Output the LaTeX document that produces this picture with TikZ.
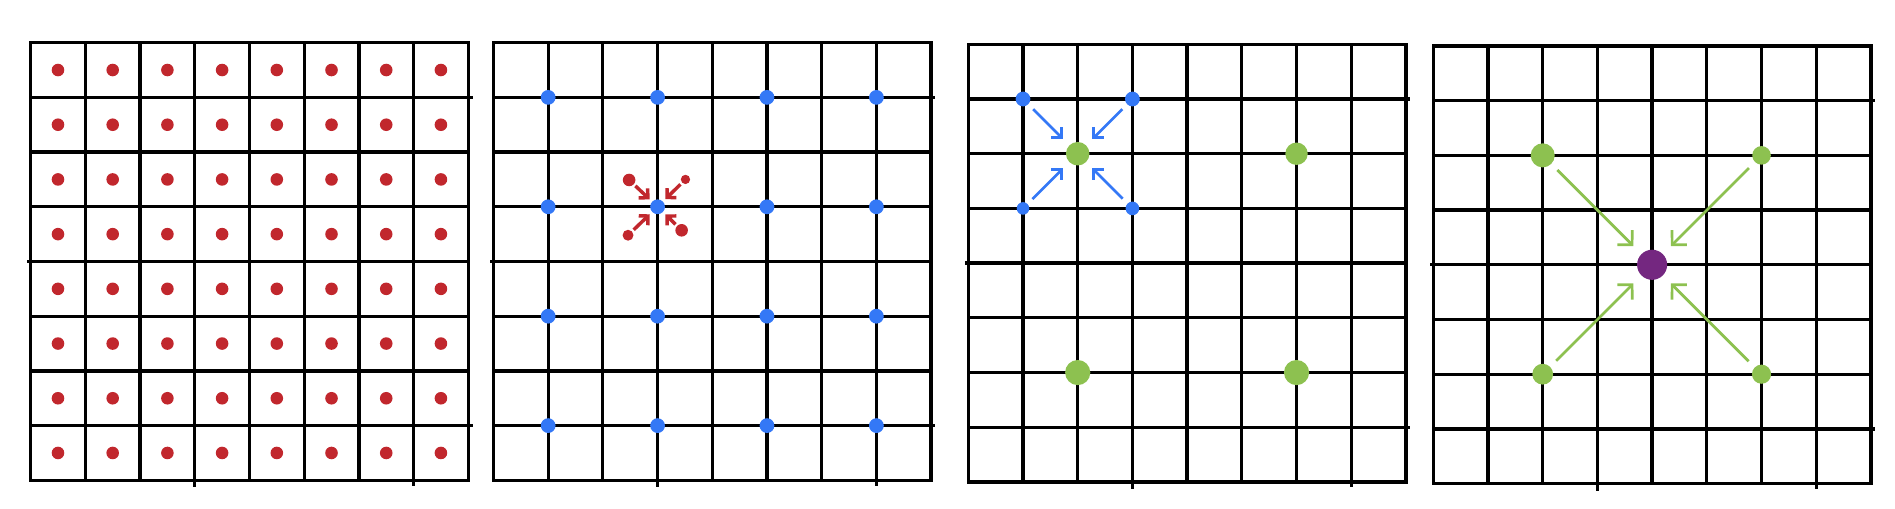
\documentclass[tikz,border=0pt]{standalone}
\usepackage{tikz}
\usetikzlibrary{arrows.meta}

\definecolor{cellred}{RGB}{193,39,45}
\definecolor{nodeblue}{RGB}{52,120,246}
\definecolor{coarsegreen}{RGB}{141,193,80}
\definecolor{toppurple}{RGB}{116,39,128}

% 8x8 lattice with the little overhangs of the hand drawing
\newcommand{\drawlattice}{%
    \draw[gridline] (0,0) grid (8,8);
    \draw[gridline] (3,0) -- (3,-0.1) (7,0) -- (7,-0.07)
                    (8,1) -- (8.05,1) (8,7) -- (8.05,7) (0,4) -- (-0.03,4);
}

\begin{document}
\begin{tikzpicture}[
    gridline/.style={line width=1.7pt, line cap=rect},
    dot/.style={circle, inner sep=0pt, minimum size=#1},
    reddot/.style={dot=0.23cm, fill=cellred},
    bluedot/.style={dot=0.27cm, fill=nodeblue},
    greendot/.style={dot=0.43cm, fill=coarsegreen},
    redarrow/.style={draw=cellred, line width=1.8pt, -{Straight Barb[length=3.4pt,width=6.8pt]}, shorten <=1pt, shorten >=1.6pt},
    bluearrow/.style={draw=nodeblue, line width=1.4pt, -{Straight Barb[length=3.8pt,width=7.6pt]}, shorten <=3.4pt, shorten >=4.4pt},
    greenarrow/.style={draw=coarsegreen, line width=1.4pt, -{Straight Barb[length=5.4pt,width=10.9pt]}, shorten <=4.3pt, shorten >=5.7pt},
]
    \useasboundingbox (0,0) rectangle (34.64,9.29);

    % level 0: one point per cell
    \begin{scope}[shift={(0.56,0.51)}]
        \drawlattice
        \foreach \i in {0,...,7}
            \foreach \j in {0,...,7}
                \node[reddot] (a-\i-\j) at (\i+0.5,\j+0.5) {};
    \end{scope}

    % level 1: points on every second vertex
    \begin{scope}[shift={(9.02,0.51)}]
        \drawlattice
        \foreach \i in {1,3,5,7}
            \foreach \j in {1,3,5,7}
                \node[bluedot] (b-\i-\j) at (\i,\j) {};

        \node[reddot] (r1) at (2.48,5.49) {};
        \node[reddot, minimum size=0.17cm] (r2) at (3.51,5.50) {};
        \node[reddot, minimum size=0.2cm] (r3) at (2.46,4.48) {};
        \node[reddot] (r4) at (3.44,4.57) {};

        \draw[redarrow] (r1) -- (b-3-5);
        \draw[redarrow] (r2) -- (b-3-5);
        \draw[redarrow] (r3) -- (b-3-5);
        \draw[redarrow] (r4) -- (b-3-5);
    \end{scope}

    % level 2
    \begin{scope}[shift={(17.70,0.48)}]
        \drawlattice
        \node[bluedot] (c1) at (1,7) {};
        \node[bluedot] (c2) at (3,7) {};
        \node[bluedot, minimum size=0.23cm] (c3) at (1,5) {};
        \node[bluedot, minimum size=0.25cm] (c4) at (3,5) {};

        \node[greendot] (g1) at (2,6) {};
        \node[greendot, minimum size=0.41cm] (g2) at (6,6) {};
        \node[greendot, minimum size=0.46cm] (g3) at (2,2) {};
        \node[greendot, minimum size=0.46cm] (g4) at (6,2) {};

        \draw[bluearrow] (c1) -- (g1);
        \draw[bluearrow] (c2) -- (g1);
        \draw[bluearrow] (c3) -- (g1);
        \draw[bluearrow] (c4) -- (g1);
    \end{scope}

    % level 3
    \begin{scope}[shift={(26.20,0.45)}]
        \drawlattice
        \node[greendot, minimum size=0.44cm] (h1) at (2,6) {};
        \node[greendot, minimum size=0.34cm] (h2) at (6,6) {};
        \node[greendot, minimum size=0.38cm] (h3) at (2,2) {};
        \node[greendot, minimum size=0.35cm] (h4) at (6,2) {};

        \node[dot=0.55cm, fill=toppurple] (p) at (4,4) {};

        \draw[greenarrow] (h1) -- (p);
        \draw[greenarrow] (h2) -- (p);
        \draw[greenarrow] (h3) -- (p);
        \draw[greenarrow] (h4) -- (p);
    \end{scope}
\end{tikzpicture}
\end{document}
